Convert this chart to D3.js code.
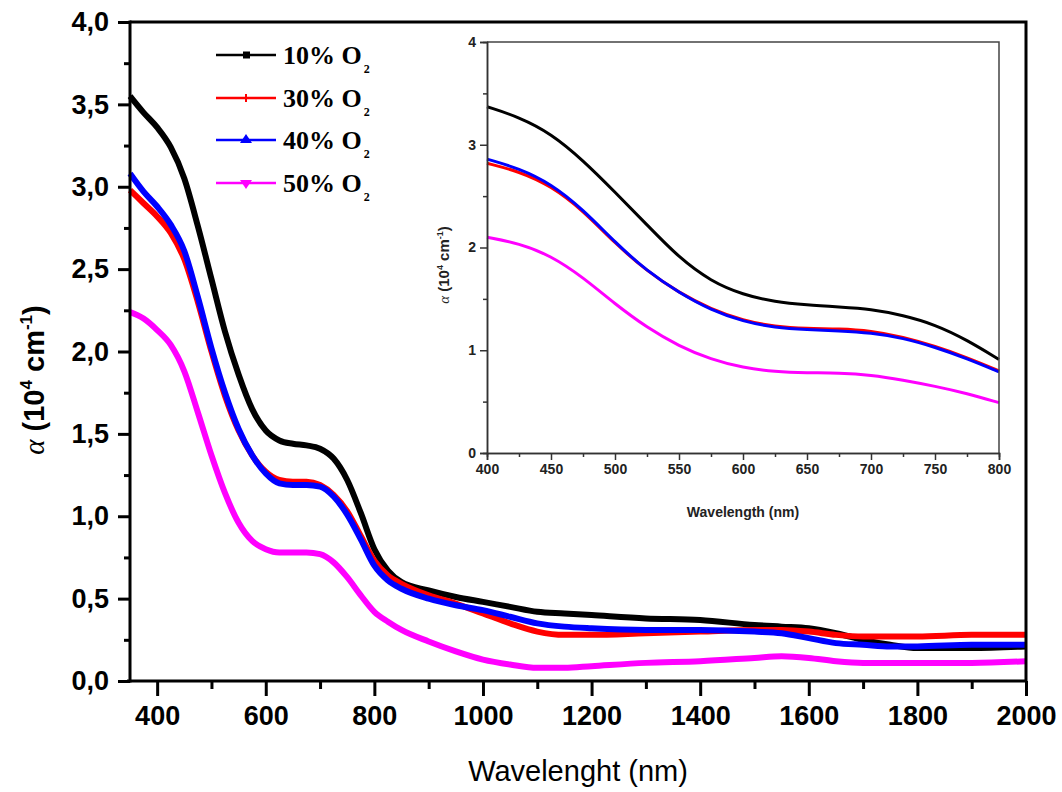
<!DOCTYPE html>
<html><head><meta charset="utf-8">
<script src="https://cdn.jsdelivr.net/npm/d3@7"></script>
<style>body{margin:0;background:#fff}svg{display:block}</style>
</head><body>
<svg id="c" width="1062" height="792"></svg>
<script>
// ---- data ----
const series = ["10% O", "30% O", "40% O", "50% O"];
const colors = ["#000000", "#ff0000", "#0000ff", "#ff00ff"];
const wl = [350,375,400,425,450,475,500,525,550,575,600,625,650,675,700,725,750,775,800,825,850,900,950,1000,1050,1100,1150,1200,1300,1400,1500,1550,1600,1650,1700,1750,1800,1900,2000];
const a10 = [3.55,3.45,3.36,3.24,3.05,2.76,2.44,2.12,1.86,1.65,1.52,1.46,1.44,1.43,1.41,1.35,1.22,1.02,0.80,0.67,0.60,0.55,0.51,0.48,0.45,0.42,0.41,0.40,0.38,0.37,0.34,0.33,0.32,0.29,0.25,0.22,0.20,0.20,0.21];
const a30 = [2.98,2.90,2.82,2.72,2.56,2.30,2.00,1.73,1.52,1.37,1.27,1.22,1.21,1.21,1.19,1.13,1.03,0.88,0.73,0.64,0.59,0.52,0.47,0.41,0.35,0.30,0.28,0.28,0.29,0.30,0.31,0.31,0.30,0.28,0.27,0.27,0.27,0.28,0.28];
const a40 = [3.08,2.97,2.88,2.77,2.61,2.33,2.02,1.75,1.53,1.37,1.26,1.20,1.19,1.19,1.18,1.12,1.01,0.86,0.70,0.61,0.56,0.50,0.46,0.43,0.39,0.35,0.33,0.32,0.31,0.31,0.30,0.29,0.26,0.23,0.22,0.21,0.21,0.22,0.22];
const a50 = [2.24,2.20,2.13,2.04,1.88,1.63,1.37,1.14,0.96,0.85,0.80,0.78,0.78,0.78,0.77,0.72,0.63,0.52,0.42,0.36,0.31,0.24,0.18,0.13,0.10,0.08,0.08,0.09,0.11,0.12,0.14,0.15,0.14,0.12,0.11,0.11,0.11,0.11,0.12];
// inset (400-800 nm)
const wlIn = [400,425,450,475,500,525,550,575,600,625,650,675,700,725,750,775,800];
const in10 = [3.37,3.27,3.11,2.85,2.54,2.22,1.90,1.67,1.54,1.47,1.44,1.42,1.40,1.34,1.25,1.10,0.91];
const in30 = [2.82,2.74,2.60,2.36,2.04,1.77,1.56,1.40,1.29,1.23,1.21,1.21,1.19,1.13,1.04,0.93,0.80];
const in40 = [2.86,2.77,2.62,2.37,2.05,1.77,1.56,1.39,1.28,1.22,1.20,1.19,1.17,1.12,1.03,0.92,0.79];
const in50 = [2.10,2.04,1.92,1.71,1.45,1.22,1.04,0.91,0.83,0.79,0.78,0.78,0.76,0.71,0.65,0.58,0.49];
const xTicks = [400,600,800,1000,1200,1400,1600,1800,2000];
const yTicks = [0,0.5,1,1.5,2,2.5,3,3.5,4];
const xTicksIn = [400,450,500,550,600,650,700,750,800];
const yTicksIn = [0,1,2,3,4];

const svg = d3.select("#c");
const comma = v => d3.format(".1f")(v).replace(".", ",");

// ---- main plot ----
const x = d3.scaleLinear().domain([350,2000]).range([130,1026]);
const y = d3.scaleLinear().domain([0,4]).range([681,22]);
const mainSets = [a10,a30,a40,a50];
const line = d3.line().x((d,i)=>x(wl[i])).y(d=>y(d)).curve(d3.curveMonotoneX);
[0,3,1,2].forEach(k=>{
  svg.append("path").attr("d", line(mainSets[k])).attr("fill","none")
    .attr("stroke", colors[k]).attr("stroke-width", 6).attr("stroke-linejoin","round");
});

// frame
svg.append("path").attr("d",`M130,22H1026V681`).attr("fill","none").attr("stroke","#000").attr("stroke-width",3);

const gx = svg.append("g").attr("transform","translate(0,681)");
gx.call(d3.axisBottom(x).tickValues(d3.range(500,2000,200)).tickSize(8).tickFormat(""));
gx.selectAll(".tick line").attr("stroke-width",3);
const gx2 = svg.append("g").attr("transform","translate(0,681)");
gx2.call(d3.axisBottom(x).tickValues(xTicks).tickSize(15).tickPadding(10).tickFormat(d3.format("d")));
gx2.selectAll(".tick line").attr("stroke-width",3);
gx2.selectAll(".tick text").attr("font-family","Liberation Sans, Arial").attr("font-size",27).attr("font-weight","bold").attr("fill","#000");
svg.selectAll(".domain").remove();
svg.append("line").attr("x1",127).attr("x2",1027).attr("y1",681).attr("y2",681).attr("stroke","#000").attr("stroke-width",3);

const gy = svg.append("g").attr("transform","translate(130,0)");
gy.call(d3.axisLeft(y).tickValues(d3.range(0.25,4,0.5)).tickSize(6).tickFormat(""));
gy.selectAll(".tick line").attr("stroke-width",3);
gy.select(".domain").remove();
const gy2 = svg.append("g").attr("transform","translate(130,0)");
gy2.call(d3.axisLeft(y).tickValues(yTicks).tickSize(12).tickPadding(9).tickFormat(comma));
gy2.selectAll(".tick line").attr("stroke-width",3);
gy2.selectAll(".tick text").attr("font-family","Liberation Sans, Arial").attr("font-size",27).attr("font-weight","bold").attr("fill","#000");
gy2.select(".domain").remove();
svg.append("line").attr("x1",130).attr("x2",130).attr("y1",20.5).attr("y2",682.5).attr("stroke","#000").attr("stroke-width",3);

// axis titles
svg.append("text").attr("x",578).attr("y",781).attr("text-anchor","middle")
  .attr("font-family","Liberation Sans, Arial").attr("font-size",29).text("Wavelenght (nm)");
const yt = svg.append("text").attr("transform","translate(44,380) rotate(-90)").attr("text-anchor","middle")
  .attr("font-family","Liberation Sans, Arial").attr("font-size",29).attr("font-weight","bold");
yt.append("tspan").attr("font-family","Liberation Serif, Times New Roman").attr("font-style","italic").attr("font-weight","normal").text("α");
yt.append("tspan").text(" (10");
yt.append("tspan").attr("font-size",17).attr("dy",-12).text("4");
yt.append("tspan").attr("dy",12).text(" cm");
yt.append("tspan").attr("font-size",17).attr("dy",-12).text("-1");
yt.append("tspan").attr("dy",12).text(")");

// legend
const legY = [55,98,140,183];
series.forEach((s,i)=>{
  const g = svg.append("g");
  g.append("line").attr("x1",216).attr("x2",276).attr("y1",legY[i]).attr("y2",legY[i]).attr("stroke",colors[i]).attr("stroke-width",2.5);
  if(i===0) g.append("rect").attr("x",243).attr("y",legY[i]-3.5).attr("width",7).attr("height",7).attr("fill",colors[i]);
  if(i===1) g.append("line").attr("x1",246).attr("x2",246).attr("y1",legY[i]-4).attr("y2",legY[i]+4).attr("stroke",colors[i]).attr("stroke-width",2);
  if(i===2) g.append("path").attr("d",`M${246-6},${legY[i]+3}L246,${legY[i]-6}L${246+6},${legY[i]+3}Z`).attr("fill",colors[i]);
  if(i===3) g.append("path").attr("d",`M${246-6},${legY[i]-3}L246,${legY[i]+6}L${246+6},${legY[i]-3}Z`).attr("fill",colors[i]);
  const t = g.append("text").attr("x",283).attr("y",legY[i]+9).attr("font-family","Liberation Serif, Times New Roman")
    .attr("font-weight","bold").attr("font-size",26).attr("fill","#000");
  t.append("tspan").text(s);
  t.append("tspan").attr("font-size",12).attr("dy",9).attr("dx",2).text("2");
});

// ---- inset ----
const xi = d3.scaleLinear().domain([400,800]).range([487,999]);
const yi = d3.scaleLinear().domain([0,4]).range([453,42]);
const inSets = [in10,in30,in40,in50];
const lineIn = d3.line().x((d,i)=>xi(wlIn[i])).y(d=>yi(d)).curve(d3.curveBasis);
[0,3,1,2].forEach(k=>{
  svg.append("path").attr("d", lineIn(inSets[k])).attr("fill","none")
    .attr("stroke", colors[k]).attr("stroke-width", 3).attr("stroke-linejoin","round");
});
svg.append("path").attr("d",`M487,42H999V453`).attr("fill","none").attr("stroke","#444").attr("stroke-width",1.5);

const gxi = svg.append("g").attr("transform","translate(0,453)");
gxi.call(d3.axisBottom(xi).tickValues(d3.range(425,800,50)).tickSize(4).tickFormat(""));
const gxi2 = svg.append("g").attr("transform","translate(0,453)");
gxi2.call(d3.axisBottom(xi).tickValues(xTicksIn).tickSize(7).tickPadding(4).tickFormat(d3.format("d")));
const gyi = svg.append("g").attr("transform","translate(487,0)");
gyi.call(d3.axisLeft(yi).tickValues(d3.range(0.5,4,1)).tickSize(4).tickFormat(""));
const gyi2 = svg.append("g").attr("transform","translate(487,0)");
gyi2.call(d3.axisLeft(yi).tickValues(yTicksIn).tickSize(7).tickPadding(4).tickFormat(d3.format("d")));
[gxi,gxi2,gyi,gyi2].forEach(g=>{
  g.selectAll(".tick line").attr("stroke","#333").attr("stroke-width",1.5);
  g.select(".domain").attr("stroke","#333").attr("stroke-width",1.5);
  g.selectAll(".tick text").attr("font-family","Liberation Sans, Arial").attr("font-size",14).attr("font-weight","bold").attr("fill","#222");
});
svg.append("text").attr("x",743).attr("y",517).attr("text-anchor","middle")
  .attr("font-family","Liberation Sans, Arial").attr("font-size",14).attr("font-weight","bold").attr("fill","#222").text("Wavelength (nm)");
const yti = svg.append("text").attr("transform","translate(449,265) rotate(-90)").attr("text-anchor","middle")
  .attr("font-family","Liberation Sans, Arial").attr("font-size",15).attr("font-weight","bold").attr("fill","#222");
yti.append("tspan").attr("font-family","Liberation Serif, Times New Roman").attr("font-style","italic").attr("font-weight","normal").text("α");
yti.append("tspan").text(" (10");
yti.append("tspan").attr("font-size",9).attr("dy",-6).text("4");
yti.append("tspan").attr("dy",6).text(" cm");
yti.append("tspan").attr("font-size",9).attr("dy",-6).text("-1");
yti.append("tspan").attr("dy",6).text(")");
</script>
</body></html>
